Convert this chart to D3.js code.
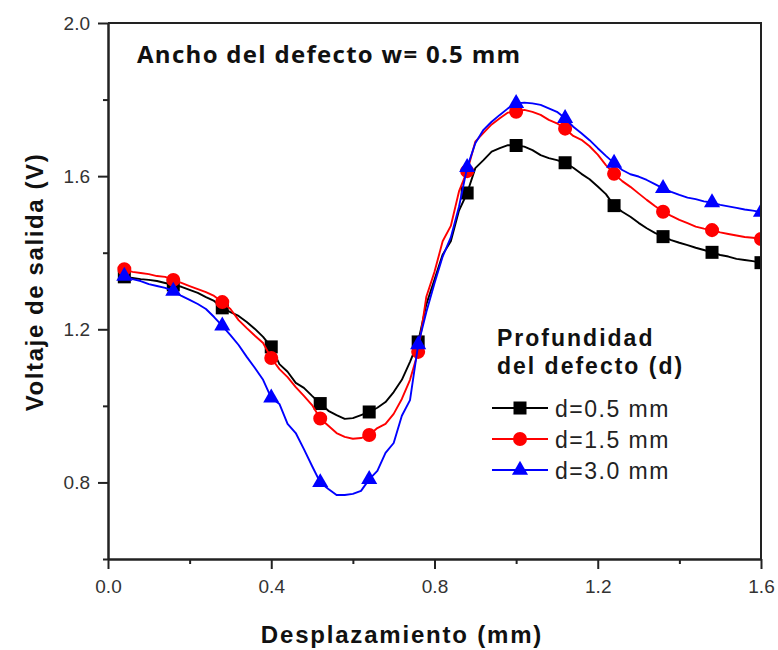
<!DOCTYPE html>
<html>
<head>
<meta charset="utf-8">
<script src="https://cdn.jsdelivr.net/npm/d3@7"></script>
<style>
  html, body { margin: 0; padding: 0; background: #fff; }
  svg { display: block; }
</style>
</head>
<body>
<svg id="chart" width="778" height="650"></svg>
<script>
// Displacement along the scan (mm), sampled every 0.02 mm
const displacement = [
  0.04, 0.06, 0.08, 0.10, 0.12, 0.14, 0.16, 0.18, 0.20, 0.22,
  0.24, 0.26, 0.28, 0.30, 0.32, 0.34, 0.36, 0.38, 0.40, 0.42,
  0.44, 0.46, 0.48, 0.50, 0.52, 0.54, 0.56, 0.58, 0.60, 0.62,
  0.64, 0.66, 0.68, 0.70, 0.72, 0.74, 0.76, 0.78, 0.80, 0.82,
  0.84, 0.86, 0.88, 0.90, 0.92, 0.94, 0.96, 0.98, 1.00, 1.02,
  1.04, 1.06, 1.08, 1.10, 1.12, 1.14, 1.16, 1.18, 1.20, 1.22,
  1.24, 1.26, 1.28, 1.30, 1.32, 1.34, 1.36, 1.38, 1.40, 1.42,
  1.44, 1.46, 1.48, 1.50, 1.52, 1.54, 1.56, 1.58, 1.60
];

// Output voltage (V) for defect depth d = 0.5 mm
const voltD05 = [
  1.337, 1.334, 1.331, 1.329, 1.326, 1.321, 1.316, 1.311, 1.303, 1.295,
  1.284, 1.274, 1.256, 1.245, 1.235, 1.219, 1.201, 1.180, 1.154, 1.109,
  1.089, 1.060, 1.047, 1.026, 1.006, 0.987, 0.976, 0.966, 0.968, 0.976,
  0.984, 0.995, 1.010, 1.036, 1.068, 1.115, 1.167, 1.265, 1.330, 1.395,
  1.430, 1.510, 1.556, 1.621, 1.642, 1.664, 1.673, 1.681, 1.680, 1.677,
  1.668, 1.655, 1.647, 1.642, 1.635, 1.622, 1.606, 1.592, 1.573, 1.553,
  1.523, 1.507, 1.494, 1.478, 1.464, 1.452, 1.442, 1.433, 1.426, 1.420,
  1.413, 1.407, 1.401, 1.394, 1.390, 1.384, 1.381, 1.378, 1.374
];

// Output voltage (V) for defect depth d = 1.5 mm
const voltD15 = [
  1.357, 1.350, 1.347, 1.344, 1.339, 1.337, 1.329, 1.321, 1.313, 1.305,
  1.297, 1.287, 1.271, 1.253, 1.224, 1.203, 1.183, 1.164, 1.125, 1.096,
  1.075, 1.049, 1.026, 1.002, 0.967, 0.948, 0.929, 0.919, 0.914, 0.916,
  0.924, 0.942, 0.953, 0.979, 1.018, 1.068, 1.141, 1.285, 1.350, 1.430,
  1.470, 1.560, 1.613, 1.690, 1.713, 1.735, 1.751, 1.766, 1.768, 1.773,
  1.768, 1.760, 1.747, 1.738, 1.724, 1.705, 1.695, 1.678, 1.656, 1.629,
  1.606, 1.587, 1.572, 1.555, 1.538, 1.522, 1.507, 1.496, 1.486, 1.477,
  1.468, 1.463, 1.459, 1.453, 1.449, 1.445, 1.441, 1.439, 1.436
];

// Output voltage (V) for defect depth d = 3.0 mm
const voltD30 = [
  1.339, 1.331, 1.326, 1.318, 1.313, 1.308, 1.300, 1.287, 1.277, 1.266,
  1.253, 1.232, 1.209, 1.185, 1.159, 1.128, 1.099, 1.068, 1.021, 1.005,
  0.953, 0.929, 0.887, 0.843, 0.800, 0.783, 0.767, 0.767, 0.770, 0.778,
  0.808, 0.830, 0.877, 0.903, 0.974, 1.015, 1.160, 1.245, 1.320, 1.390,
  1.440, 1.520, 1.623, 1.686, 1.721, 1.742, 1.760, 1.777, 1.790, 1.792,
  1.790, 1.786, 1.777, 1.768, 1.751, 1.729, 1.712, 1.694, 1.673, 1.653,
  1.634, 1.616, 1.605, 1.599, 1.590, 1.579, 1.568, 1.559, 1.551, 1.544,
  1.540, 1.534, 1.531, 1.525, 1.521, 1.517, 1.513, 1.510, 1.506
];

const seriesNames = ["d=0.5 mm", "d=1.5 mm", "d=3.0 mm"];
const seriesColors = ["#000000", "#ff0000", "#0000ff"];
const seriesSymbols = [d3.symbolSquare, d3.symbolCircle, d3.symbolTriangle];
const seriesSymbolSizes = [169, 154, 112];

const xMajorTicks = [0.0, 0.4, 0.8, 1.2, 1.6];
const xMinorTicks = [0.2, 0.6, 1.0, 1.4];
const yMajorTicks = [0.8, 1.2, 1.6, 2.0];
const yMinorTicks = [0.6, 1.0, 1.4, 1.8];

const titleText = "Ancho del defecto w= 0.5 mm";
const xLabel = "Desplazamiento (mm)";
const yLabel = "Voltaje de salida (V)";
const legendTitle = ["Profundidad", "del defecto (d)"];

// a marker on every sixth sample
const markerEvery = 6;

const margin = { left: 108, top: 23, right: 761, bottom: 559 };

const svg = d3.select("#chart");

const x = d3.scaleLinear().domain([0, 1.6]).range([margin.left, margin.right]);
const y = d3.scaleLinear().domain([0.6, 2.0]).range([margin.bottom, margin.top]);

const allSeries = [voltD05, voltD15, voltD30].map((vals, k) => ({
  name: seriesNames[k],
  color: seriesColors[k],
  symbol: seriesSymbols[k],
  size: seriesSymbolSizes[k],
  points: displacement.map((dx, i) => ({ x: dx, y: vals[i], i }))
}));

svg.append("clipPath").attr("id", "plotClip")
  .append("rect")
  .attr("x", margin.left).attr("y", margin.top)
  .attr("width", margin.right - margin.left)
  .attr("height", margin.bottom - margin.top);

const plot = svg.append("g").attr("clip-path", "url(#plotClip)");

const line = d3.line().x(d => x(d.x)).y(d => y(d.y));

allSeries.forEach(s => {
  const g = plot.append("g");
  g.append("path")
    .datum(s.points)
    .attr("fill", "none")
    .attr("stroke", s.color)
    .attr("stroke-width", 1.9)
    .attr("stroke-linejoin", "round")
    .attr("d", line);
  g.selectAll("path.mk")
    .data(s.points.filter(p => p.i % markerEvery === 0))
    .join("path")
    .attr("class", "mk")
    .attr("fill", s.color)
    .attr("transform", p => `translate(${x(p.x)},${y(p.y)})`)
    .attr("d", d3.symbol().type(s.symbol).size(s.size));
});

// axes
const axisColor = "#222";
const tickFont = "Liberation Sans, Arial, sans-serif";

const yAxisMajor = svg.append("g")
  .attr("transform", `translate(${margin.left},0)`)
  .call(d3.axisLeft(y).tickValues(yMajorTicks).tickFormat(d3.format(".1f"))
    .tickSize(10).tickSizeOuter(0).tickPadding(8));
const yAxisMinor = svg.append("g")
  .attr("transform", `translate(${margin.left},0)`)
  .call(d3.axisLeft(y).tickValues(yMinorTicks).tickFormat("")
    .tickSize(5).tickSizeOuter(0));
const xAxisMajor = svg.append("g")
  .attr("transform", `translate(0,${margin.bottom})`)
  .call(d3.axisBottom(x).tickValues(xMajorTicks).tickFormat(d3.format(".1f"))
    .tickSize(10).tickSizeOuter(0).tickPadding(11));
const xAxisMinor = svg.append("g")
  .attr("transform", `translate(0,${margin.bottom})`)
  .call(d3.axisBottom(x).tickValues(xMinorTicks).tickFormat("")
    .tickSize(5).tickSizeOuter(0));

[yAxisMajor, yAxisMinor, xAxisMajor, xAxisMinor].forEach(a => {
  a.select(".domain").attr("stroke", axisColor).attr("stroke-width", 2);
  a.selectAll(".tick line").attr("stroke", axisColor).attr("stroke-width", 2);
  a.selectAll(".tick text")
    .attr("fill", "#333")
    .style("font-family", tickFont)
    .style("font-size", "19px");
});

// frame: top and right borders
svg.append("path")
  .attr("d", `M${margin.left},${margin.top}H${margin.right}V${margin.bottom}`)
  .attr("fill", "none")
  .attr("stroke", axisColor)
  .attr("stroke-width", 2);

// title inside the plot
svg.append("text")
  .attr("x", 137).attr("y", 63)
  .attr("fill", "#111")
  .style("font-family", "Open Sans, sans-serif")
  .style("font-weight", 700)
  .style("font-size", "24px")
  .style("letter-spacing", "1.3px")
  .text(titleText);

// axis titles
svg.append("text")
  .attr("x", 402).attr("y", 643)
  .attr("text-anchor", "middle")
  .attr("fill", "#111")
  .style("font-family", tickFont)
  .style("font-weight", 700)
  .style("font-size", "24px")
  .style("letter-spacing", "1.8px")
  .text(xLabel);

svg.append("text")
  .attr("transform", "translate(43,282) rotate(-90)")
  .attr("text-anchor", "middle")
  .attr("fill", "#111")
  .style("font-family", tickFont)
  .style("font-weight", 700)
  .style("font-size", "24px")
  .style("letter-spacing", "1.6px")
  .text(yLabel);

// legend
const legend = svg.append("g");
legend.selectAll("text.lt")
  .data(legendTitle)
  .join("text")
  .attr("class", "lt")
  .attr("x", 497)
  .attr("y", (d, i) => 346 + i * 28)
  .attr("fill", "#111")
  .style("font-family", tickFont)
  .style("font-weight", 700)
  .style("font-size", "23px")
  .style("letter-spacing", "2px")
  .text(d => d);

allSeries.forEach((s, k) => {
  const ly = 408 + k * 31;
  legend.append("line")
    .attr("x1", 492).attr("x2", 548)
    .attr("y1", ly).attr("y2", ly)
    .attr("stroke", s.color).attr("stroke-width", 1.9);
  legend.append("path")
    .attr("fill", s.color)
    .attr("transform", `translate(520,${ly})`)
    .attr("d", d3.symbol().type(s.symbol).size(s.size));
  legend.append("text")
    .attr("x", 555).attr("y", ly + 8.5)
    .attr("fill", "#222")
    .style("font-family", tickFont)
    .style("font-size", "23px")
    .style("letter-spacing", "1.5px")
    .text(s.name);
});
</script>
</body>
</html>
